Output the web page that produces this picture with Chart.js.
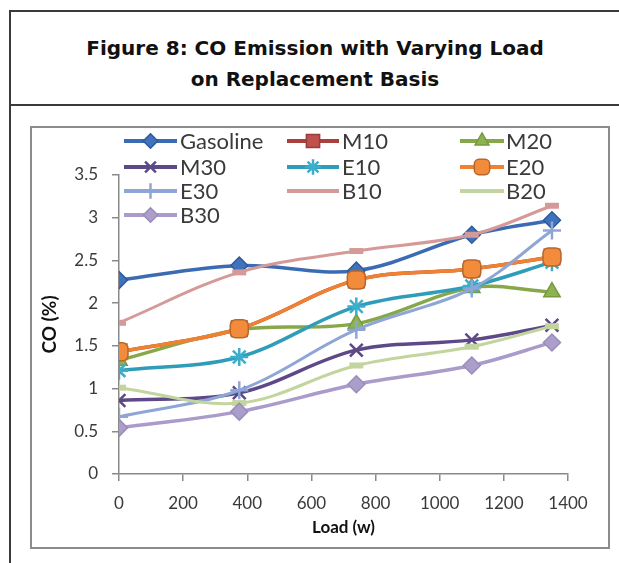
<!DOCTYPE html>
<html>
<head>
<meta charset="utf-8">
<script src="https://cdn.jsdelivr.net/npm/chart.js@4.4.1/dist/chart.umd.min.js"></script>
<style>
  html, body { margin: 0; padding: 0; background: #fff; }
  body { width: 619px; height: 563px; position: relative; overflow: hidden; }
  .caption {
    position: absolute; left: 9px; top: 10px; width: 610px; height: 96px;
    box-sizing: border-box;
    border-top: 2px solid #3a3a3a; border-left: 2px solid #3a3a3a; border-bottom: 2px solid #3a3a3a;
    padding-top: 21px;
    font: bold 20px "DejaVu Sans", Verdana, sans-serif; line-height: 31px;
    text-align: center; color: #111;
  }
  .rule { position: absolute; left: 9px; top: 106px; width: 2px; height: 457px; background: #3a3a3a; }
  .frame {
    position: absolute; left: 30px; top: 126px; width: 580px; height: 423px;
    box-sizing: border-box; border: 2px solid #8c8c8c; background: #fff;
  }
  canvas { display: block; }
</style>
</head>
<body>
<div class="caption">Figure 8: CO Emission with Varying Load<br>on Replacement Basis</div>
<div class="rule"></div>
<div class="frame"><canvas id="chart" width="576" height="419"></canvas></div>

<script>
// load steps (w) and CO readings (%) for each fuel blend
const loads = [0, 375, 740, 1100, 1350];
const seriesNames = ["Gasoline", "M10", "M20", "M30", "E10", "E20", "E30", "B10", "B20", "B30"];
const gasoline = [2.27, 2.44, 2.38, 2.80, 2.97];
const m10 = [1.43, 1.70, 2.27, 2.40, 2.54];
const m20 = [1.33, 1.69, 1.76, 2.18, 2.13];
const m30 = [0.86, 0.95, 1.45, 1.57, 1.74];
const e10 = [1.21, 1.37, 1.96, 2.20, 2.48];
const e20 = [1.43, 1.70, 2.27, 2.40, 2.54];
const e30 = [0.67, 0.98, 1.69, 2.17, 2.85];
const b10 = [1.77, 2.36, 2.61, 2.80, 3.14];
const b20 = [1.01, 0.83, 1.27, 1.49, 1.73];
const b30 = [0.54, 0.73, 1.05, 1.27, 1.54];
const xTicks = [0, 200, 400, 600, 800, 1000, 1200, 1400];
const yTicks = [0, 0.5, 1, 1.5, 2, 2.5, 3, 3.5];

const values = [gasoline, m10, m20, m30, e10, e20, e30, b10, b20, b30];

// line colour, marker style, marker fill, marker border
const styles = [
  { line: "#3b6cb3", point: "rectRot", r: 8.5, fill: "#3f73bd", edge: "#2e5a9a", w: 3.5 },
  { line: "#a8403c", point: "rect", r: 11, fill: "#c0504d", edge: "#963c39", w: 3.5 },
  { line: "#86a84a", point: "triangle", r: 9.5, fill: "#8db350", edge: "#789a40", w: 3.5 },
  { line: "#5d4987", point: "crossRot", r: 9, fill: "#5d4987", edge: "#5d4987", w: 3.5 },
  { line: "#2f9db9", point: "star", r: 9, fill: "#3aaecb", edge: "#3aaecb", w: 3.5 },
  { line: "#ef8130", point: "rectRounded", r: 10.5, fill: "#f28b3b", edge: "#b8662a", w: 3.5 },
  { line: "#8ea6d6", point: "cross", r: 9, fill: "#8ea6d6", edge: "#8ea6d6", w: 3 },
  { line: "#d59a98", point: "line", r: 7, fill: "#d59a98", edge: "#d59a98", w: 3 },
  { line: "#c3d59f", point: "line", r: 7, fill: "#c3d59f", edge: "#c3d59f", w: 3 },
  { line: "#a99bca", point: "rectRot", r: 8.5, fill: "#ab9ecb", edge: "#9a8cbc", w: 3.5 }
];

const datasets = seriesNames.map((name, i) => ({
  label: name,
  data: loads.map((x, j) => ({ x: x, y: values[i][j] })),
  borderColor: styles[i].line,
  borderWidth: styles[i].w,
  tension: 0.35,
  pointStyle: styles[i].point,
  pointRadius: styles[i].r,
  pointBackgroundColor: styles[i].fill,
  pointBorderColor: styles[i].edge,
  pointBorderWidth: styles[i].point === "line" ? 6 : (styles[i].point.indexOf("cross") === 0 || styles[i].point === "star" ? 2.5 : 1.5),
  order: seriesNames.length - i
}));

// legend sits inside the plot, three columns
const legendCols = [{ x0: 92, x1: 145, tx: 148 }, { x0: 255, x1: 307, tx: 310 }, { x0: 428, x1: 472, tx: 474 }];
const legendRows = [13, 39, 63, 87];

const gridLegend = {
  id: "gridLegend",
  afterDraw(chart) {
    const ctx = chart.ctx;
    ctx.save();
    ctx.font = '22px Lato, "Open Sans", sans-serif';
    ctx.textBaseline = "middle";
    chart.data.datasets.forEach((ds, i) => {
      const c = legendCols[i % 3];
      const y = legendRows[Math.floor(i / 3)];
      ctx.strokeStyle = ds.borderColor;
      ctx.lineWidth = 4;
      ctx.beginPath();
      ctx.moveTo(c.x0, y);
      ctx.lineTo(c.x1, y);
      ctx.stroke();
      if (ds.pointStyle !== "line") {
        ctx.fillStyle = ds.pointBackgroundColor;
        ctx.strokeStyle = ds.pointBorderColor;
        ctx.lineWidth = ds.pointBorderWidth;
        Chart.helpers.drawPoint(ctx, { pointStyle: ds.pointStyle, radius: ds.pointRadius * 0.85, rotation: 0, borderWidth: ds.pointBorderWidth }, (c.x0 + c.x1) / 2, y);
      }
      ctx.fillStyle = "#3a3a3a";
      ctx.fillText(ds.label, c.tx, y + 1);
    });
    ctx.restore();
  }
};

const tickFont = { family: 'Lato, "Open Sans", sans-serif', size: 17 };
const titleFont = { family: 'Lato, "Open Sans", sans-serif', size: 17, weight: "bold" };
const plainNumber = (v) => String(v);

new Chart(document.getElementById("chart"), {
  type: "line",
  data: { datasets: datasets },
  options: {
    responsive: false,
    animation: false,
    devicePixelRatio: 1,
    layout: { padding: { top: 47, right: 40, left: 0, bottom: 0 } },
    plugins: { legend: { display: false }, tooltip: { enabled: false } },
    scales: {
      x: {
        type: "linear",
        min: 0,
        max: 1400,
        afterBuildTicks: (scale) => { scale.ticks = xTicks.map(v => ({ value: v })); },
        ticks: { autoSkip: false, maxRotation: 0, padding: 12, color: "#3a3a3a", font: tickFont, callback: plainNumber },
        grid: { drawOnChartArea: false, drawTicks: true, tickLength: 7, color: "#8a8a8a", lineWidth: 1.5 },
        border: { color: "#8a8a8a", width: 1.5 },
        title: { display: true, text: "Load (w)", color: "#111", font: titleFont, padding: { top: 0, bottom: 9 } },
        afterFit: (scale) => { scale.height = 73; scale.paddingLeft = 0; scale.paddingRight = 0; }
      },
      y: {
        min: 0,
        max: 3.5,
        afterBuildTicks: (scale) => { scale.ticks = yTicks.map(v => ({ value: v })); },
        ticks: { padding: 14, color: "#3a3a3a", font: tickFont, callback: plainNumber },
        grid: { drawOnChartArea: false, drawTicks: true, tickLength: 7, color: "#8a8a8a", lineWidth: 1.5 },
        border: { color: "#8a8a8a", width: 1.5 },
        title: { display: true, text: "CO (%)", color: "#111", font: { family: 'Lato, "Open Sans", sans-serif', size: 19, weight: "bold" }, padding: { top: 6, bottom: 0 } },
        afterFit: (scale) => { scale.width = 87; scale.paddingTop = 0; scale.paddingBottom = 0; }
      }
    }
  },
  plugins: [gridLegend]
});
</script>
</body>
</html>
